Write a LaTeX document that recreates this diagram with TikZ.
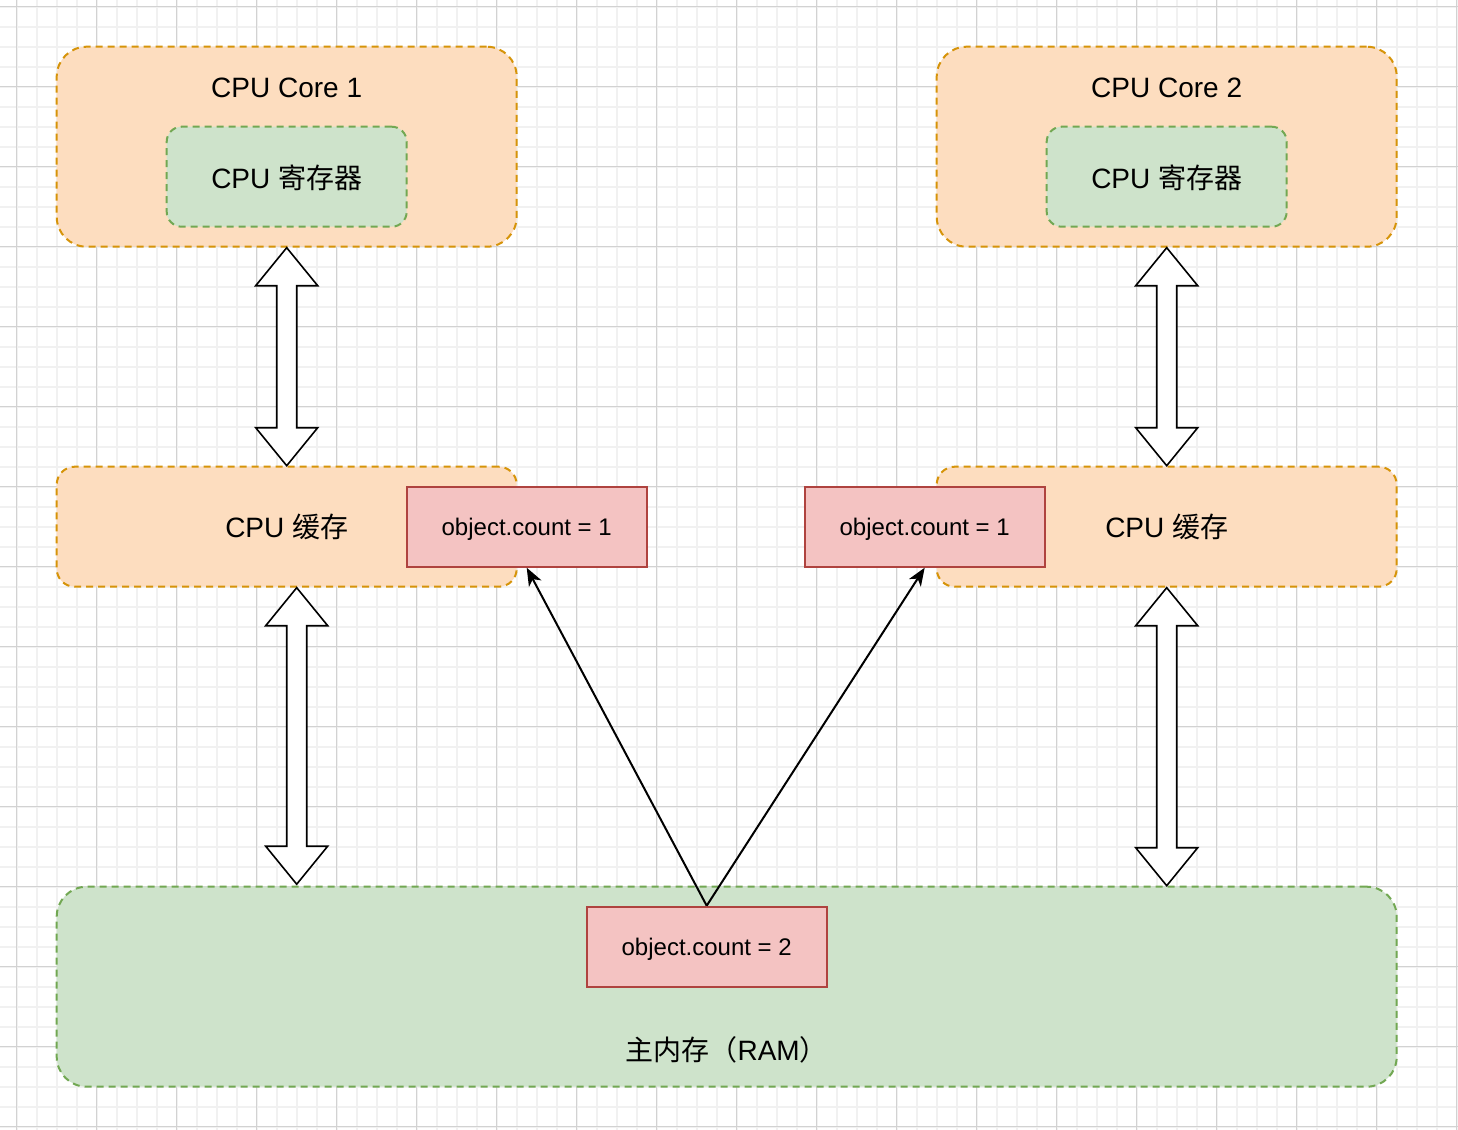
\documentclass[tikz,border=0pt]{standalone}
\usepackage{fontspec}
\setmainfont{Liberation Sans}
\newfontfamily\cjk{Noto Sans CJK SC}
\usetikzlibrary{calc,arrows.meta}
\definecolor{orF}{HTML}{FDDDBF}
\definecolor{orS}{HTML}{D6940A}
\definecolor{grF}{HTML}{CEE3CB}
\definecolor{grS}{HTML}{72A853}
\definecolor{rdF}{HTML}{F4C3C2}
\definecolor{rdS}{HTML}{AF433F}
\definecolor{gmin}{HTML}{F1F1F1}
\definecolor{gmaj}{HTML}{D2D2D2}
\newcommand\fsz[1]{\fontsize{#1}{#1}\selectfont}
\newcommand\blockdarrow[2]{%
  \draw[blockarrow] (#1) -- ++(31,38) -- ++(-21,0) -- ($(#2)+(10,-38)$) -- ++(21,0) -- (#2)
    -- ++(-31,-38) -- ++(21,0) -- ($(#1)+(-10,38)$) -- ++(-21,0) -- cycle;}
\tikzset{
  dashbox/.style={line width=1pt, dash pattern=on 3.5pt off 2.5pt, inner sep=0pt, font=\fsz{14pt}},
  orangebox/.style={dashbox, draw=orS, fill=orF},
  greenbox/.style={dashbox, draw=grS, fill=grF},
  corebox/.style={orangebox, minimum width=230pt, minimum height=100pt, rounded corners=15pt},
  regbox/.style={greenbox, minimum width=120pt, minimum height=50pt, rounded corners=7.5pt, text height=11.4pt, text depth=0pt},
  cachebox/.style={orangebox, minimum width=230pt, minimum height=60pt, rounded corners=9pt, text height=10.4pt, text depth=0pt},
  mainbox/.style={greenbox, minimum width=670pt, minimum height=100pt, rounded corners=15pt},
  valbox/.style={draw=rdS, fill=rdF, line width=1pt, minimum width=120pt, minimum height=40pt, inner sep=0pt, font=\fsz{12pt}, text height=8.8pt, text depth=0pt},
  blockarrow/.style={draw=black, fill=white, line width=0.8pt, line join=miter},
  ptr/.style={draw=black, line width=1pt, -{Stealth[length=9pt, width=7pt, inset=2.5pt]}},
  toplabel/.style={anchor=base, yshift=-25.8pt, font=\fsz{14pt}},
  bottomlabel/.style={anchor=base, yshift=13.85pt, font=\fsz{14pt}},
}
\begin{document}
\begin{tikzpicture}[x=0.5pt, y=-0.5pt]
\useasboundingbox (0,0) rectangle (1458,1130);
\fill[white] (0,0) rectangle (1458,1130);
\begin{scope}
  \clip (0,0) rectangle (1458,1130);
  \foreach \gx in {-3.3,16.7,...,1460} \draw[gmin, line width=1pt] (\gx,0) -- (\gx,1130);
  \foreach \gy in {-13.3,6.7,...,1140} \draw[gmin, line width=1pt] (0,\gy) -- (1458,\gy);
  \foreach \gx in {16.7,96.7,...,1460} \draw[gmaj, line width=0.6pt] (\gx,0) -- (\gx,1130);
  \foreach \gy in {6.7,86.7,...,1140} \draw[gmaj, line width=0.6pt] (0,\gy) -- (1458,\gy);
\end{scope}

% CPU cores
\node[corebox, label={[toplabel]north:CPU Core 1}] (core1) at (286.7,146.7) {};
\node[regbox] (reg1) at (286.7,176.7) {CPU {\cjk 寄存器}};
\node[corebox, label={[toplabel]north:CPU Core 2}] (core2) at (1166.7,146.7) {};
\node[regbox] (reg2) at (1166.7,176.7) {CPU {\cjk 寄存器}};

% caches
\node[cachebox] (cache1) at (286.7,526.7) {CPU {\cjk 缓存}};
\node[cachebox] (cache2) at (1166.7,526.7) {CPU {\cjk 缓存}};
\node[valbox] (obj1) at (526.7,526.7) {object.count = 1};
\node[valbox] (obj2) at (924.7,526.7) {object.count = 1};

% main memory
\node[mainbox, label={[bottomlabel]south:{\cjk 主内存（}RAM{\cjk ）}}] (main) at (726.7,986.7) {};
\node[valbox] (obj0) at (706.7,946.7) {object.count = 2};

% block double arrows
\coordinate (aTop) at (core1.south);
\coordinate (aBot) at (cache1.north);
\blockdarrow{aTop}{aBot}
\coordinate (bTop) at ($(cache1.south)+(10,0)$);
\coordinate (bBot) at ($(bTop |- main.north)+(0,-1.5)$);
\blockdarrow{bTop}{bBot}
\coordinate (cTop) at (core2.south);
\coordinate (cBot) at (cache2.north);
\blockdarrow{cTop}{cBot}
\coordinate (dTop) at (cache2.south);
\coordinate (dBot) at (cache2.south |- main.north);
\blockdarrow{dTop}{dBot}

% pointers
\draw[ptr] (obj0.north) -- (obj1.south);
\draw[ptr] (obj0.north) -- (obj2.south);
\end{tikzpicture}
\end{document}
